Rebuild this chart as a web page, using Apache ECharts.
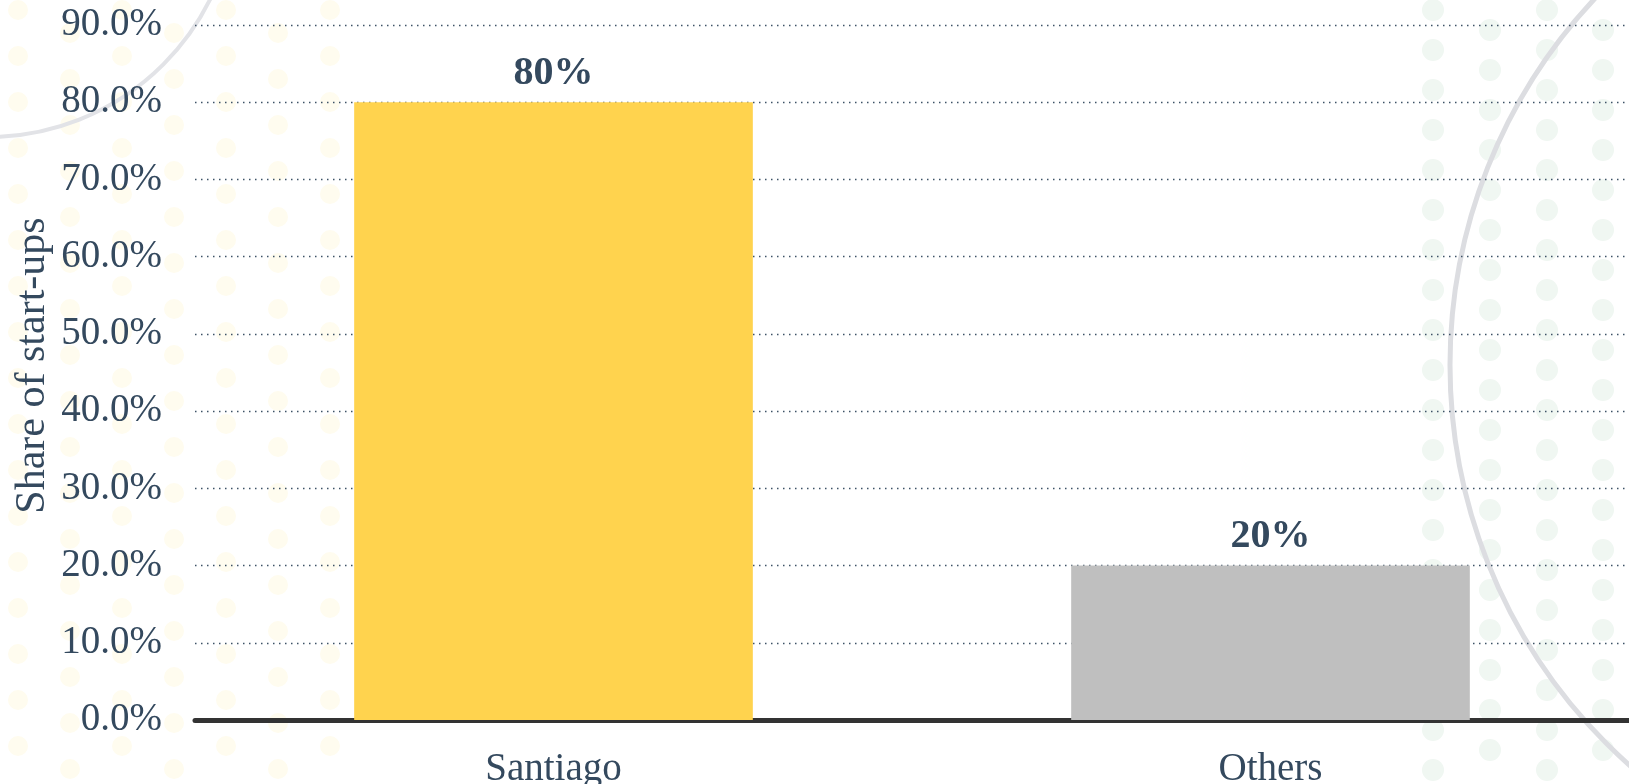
<!DOCTYPE html>
<html>
<head>
<meta charset="utf-8">
<script src="https://cdn.jsdelivr.net/npm/echarts@6/dist/echarts.min.js"></script>
<style>
html,body{margin:0;padding:0;background:#ffffff;}
#chart{width:1629px;height:784px;}
</style>
</head>
<body>
<div id="chart"></div>
<script>
const categories = ['Santiago', 'Others'];
const shareValues = [80, 20];
const barColors = ['#ffd34e', '#bfbfbf'];
const yTicks = { min: 0, max: 90, interval: 10 };
const yAxisName = 'Share of start-ups';

const chart = echarts.init(document.getElementById('chart'), null, { renderer: 'canvas' });
const textColor = '#34495e';
const serif = '"Liberation Serif", "Times New Roman", serif';

// decorative background (faint dot fields and arcs)
const decor = [];
function dotField(xs, y0, y1, step, r, color) {
  xs.forEach((x, ci) => {
    for (let y = y0 + (ci % 2 ? step / 2 : 0); y <= y1; y += step) {
      decor.push({ type: 'circle', z: -20, silent: true, shape: { cx: x, cy: y, r: r }, style: { fill: color } });
    }
  });
}
dotField([18, 70, 122, 174, 226, 278, 330], 10, 780, 46, 10, '#fffcef');
dotField([1433, 1490, 1547, 1603], 10, 780, 40, 11, '#f0f7f2');
decor.push({ type: 'circle', z: -10, silent: true, shape: { cx: 1986, cy: 365, r: 536 }, style: { fill: 'none', stroke: '#dcdde1', lineWidth: 5 } });
decor.push({ type: 'circle', z: -10, silent: true, shape: { cx: -12, cy: -111, r: 248 }, style: { fill: 'none', stroke: '#e2e3e7', lineWidth: 4 } });

const option = {
  backgroundColor: '#ffffff',
  animation: false,
  graphic: decor,
  grid: { left: 195, right: 0, top: 25, bottom: 64, containLabel: false, outerBoundsMode: 'none' },
  xAxis: {
    type: 'category',
    data: categories,
    axisLine: { show: true, lineStyle: { color: '#333333', width: 5 } },
    axisTick: { show: false },
    axisLabel: { color: textColor, fontSize: 39, fontFamily: serif, margin: 30 },
    splitLine: { show: false }
  },
  yAxis: {
    type: 'value',
    min: yTicks.min,
    max: yTicks.max,
    interval: yTicks.interval,
    name: yAxisName,
    nameLocation: 'middle',
    nameRotate: 90,
    nameGap: 141,
    nameMoveOverlap: false,
    nameTextStyle: { color: textColor, fontSize: 42, fontFamily: serif, padding: [0, 0, 0, 14] },
    axisLine: { show: false },
    axisTick: { show: false },
    axisLabel: {
      color: textColor, fontSize: 39, fontFamily: serif, margin: 33,
      formatter: v => v.toFixed(1) + '%'
    },
    splitLine: { show: true, lineStyle: { color: '#3d5266', width: 1.4, type: [1.5, 4.5] } }
  },
  series: [{
    type: 'bar',
    data: shareValues.map((v, i) => ({ value: v, itemStyle: { color: barColors[i] } })),
    barWidth: '55.6%',
    label: {
      show: true,
      position: 'top',
      distance: 9,
      formatter: p => p.value + '%',
      color: textColor,
      fontSize: 40,
      fontWeight: 'bold',
      fontFamily: serif
    }
  }]
};
chart.setOption(option);
</script>
</body>
</html>
